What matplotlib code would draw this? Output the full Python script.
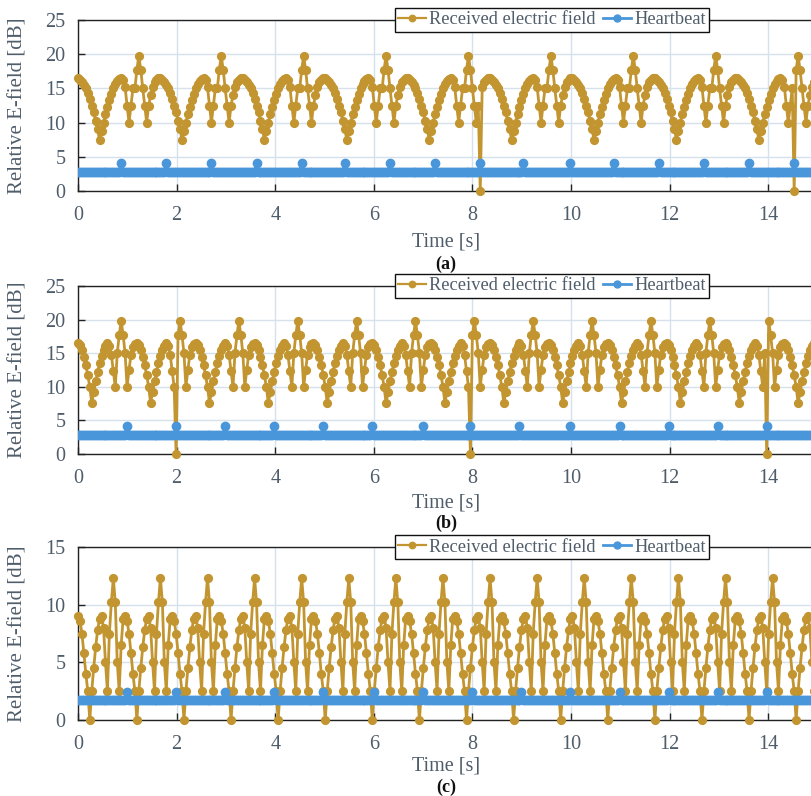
import numpy as np
import matplotlib
matplotlib.use("Agg")
import matplotlib.pyplot as plt
from matplotlib.lines import Line2D

plt.rcParams['font.family'] = ['Liberation Serif', 'DejaVu Serif']

# ---------------- data ----------------
dt = 0.0398          # sample interval [s]
t_end = 15.4         # last time shown [s]

# one measured cycle of the received field (panel a, starts at t = 0), dB
cycle_a = [16.5, 16.3, 16.0, 15.5, 15.0, 14.3, 13.5, 12.5, 11.5, 10.2, 9.0, 7.5,
           8.8, 10.0, 11.2, 12.3, 13.3, 14.2, 15.0, 15.6, 16.1, 16.4, 16.5, 16.2,
           15.2, 12.5, 10.0, 12.5, 15.0, 15.0, 17.7, 19.8, 17.7, 15.0, 12.5, 10.0,
           12.5, 14.0, 15.2, 15.9, 16.3, 16.5]
# one measured cycle of the received field (panel b)
cycle_b = [16.5, 16.2, 15.5, 14.5, 13.2, 11.7, 10.0, 7.6, 9.2, 10.8, 12.2, 13.5,
           14.6, 15.5, 16.1, 16.5, 16.0, 14.8, 12.3, 10.0, 15.0, 17.7, 19.8, 17.7,
           15.0, 10.0, 12.5, 14.8, 15.9, 16.4]
# one measured cycle of the received field (panel c)
cycle_c = [9.0, 8.6, 7.5, 5.8, 4.0, 2.5, 0.0, 2.5, 4.5, 6.3, 7.8, 8.8,
           9.0, 8.0, 5.0, 2.5, 7.5, 10.2, 12.3, 10.2, 5.0, 2.5, 6.5, 8.8]

# times where the received field drops to 0 dB
dropouts_a = [8.14, 14.51]
dropouts_b = [1.98, 7.97, 13.97]
dropouts_c = []

# heartbeat times [s]
beats_a = [0.89, 1.80, 2.70, 3.61, 4.52, 5.43, 6.33, 7.24, 8.14, 9.05, 9.97,
           10.87, 11.78, 12.68, 13.60, 14.51]
beats_b = [0.98, 1.98, 2.97, 3.98, 4.97, 5.97, 6.99, 7.97, 8.97, 9.97, 10.97,
           11.96, 12.98, 13.97]
beats_c = [0.99, 1.98, 2.98, 3.99, 4.98, 5.99, 6.99, 7.98, 8.98, 9.98, 10.97,
           11.97, 12.98, 13.97]
beat_base = [2.8, 2.8, 1.72]     # heartbeat baseline level per panel
beat_peak = [4.1, 4.15, 2.45]    # heartbeat marker level per panel

y_max = [25, 25, 15]
y_ticks = [[0, 5, 10, 15, 20, 25], [0, 5, 10, 15, 20, 25], [0, 5, 10, 15]]
x_ticks = [0, 2, 4, 6, 8, 10, 12, 14]
panel_labels = ['(a)', '(b)', '(c)']

# ---------------- style ----------------
GOLD = '#C29530'
BLUE = '#4A96DA'
TXT = '#4f5d6b'
GRID = '#d6e1eb'

W, H = 811, 796
fig = plt.figure(figsize=(W / 100, H / 100), dpi=100)

# pixel boxes of the three axes (left, top, bottom)
boxes = [(78, 20, 191), (78, 286, 454), (78, 547, 720)]
xmax = 15.25
px_per_s = 49.3
xlab_y = [242, 503, 766]
plab_y = [264, 523, 787]

t = np.arange(int(t_end / dt) + 1) * dt
cycles = [cycle_a, cycle_b, cycle_c]
dropouts = [dropouts_a, dropouts_b, dropouts_c]
beats = [beats_a, beats_b, beats_c]

for i in range(3):
    l, top, bot = boxes[i]
    ax = fig.add_axes([l / W, 1 - bot / H, xmax * px_per_s / W, (bot - top) / H])
    cyc = np.asarray(cycles[i], dtype=float)
    field = np.tile(cyc, len(t) // len(cyc) + 1)[:len(t)]
    for d in dropouts[i]:
        field[int(round(d / dt))] = 0.0
    hb = np.full(len(t), beat_base[i])
    for b in beats[i]:
        hb[int(round(b / dt))] = beat_peak[i]

    ax.plot(t, field, '-o', color=GOLD, lw=2.0, ms=5.6, zorder=3, clip_on=False)
    ax.plot(t, hb, '-o', color=BLUE, lw=2.4, ms=6.0, zorder=4)

    ax.set_xlim(0, xmax)
    ax.set_ylim(0, y_max[i])
    ax.set_xticks(x_ticks)
    ax.set_yticks(y_ticks[i])
    ax.grid(True, color=GRID, lw=1.0, zorder=0)
    ax.set_axisbelow(True)
    ax.tick_params(direction='in', length=5, width=1.0, colors='#222222',
                   labelcolor=TXT, labelsize=14.5)
    ax.tick_params(axis='x', pad=11)
    ax.tick_params(axis='y', pad=9)
    for s in ax.spines.values():
        s.set_color('#222222')
        s.set_linewidth(1.0)
    ax.set_ylabel('Relative E-field [dB]', fontsize=15, color=TXT)
    ax.yaxis.set_label_coords(-(l - 27) / (xmax * px_per_s), 0.5)

    handles = [Line2D([], [], color=GOLD, marker='o', lw=1.6, ms=4.6),
               Line2D([], [], color=BLUE, marker='o', lw=2.0, ms=5.0)]
    leg = ax.legend(handles, ['Received electric field', 'Heartbeat'],
                    loc='center', bbox_to_anchor=((552 - l) / (xmax * px_per_s), 1.0),
                    ncol=2, fontsize=13.2, frameon=True, fancybox=False,
                    handlelength=1.5, handletextpad=0.2, columnspacing=0.4,
                    borderpad=0.18, borderaxespad=0)
    leg.get_frame().set_edgecolor('#111111')
    leg.get_frame().set_linewidth(1.0)
    leg.get_frame().set_alpha(1)
    for txt in leg.get_texts():
        txt.set_color(TXT)
    leg.set_zorder(10)

    fig.text(446 / W, 1 - xlab_y[i] / H, 'Time [s]', ha='center', va='center',
             fontsize=14.5, color=TXT)
    fig.text(446 / W, 1 - plab_y[i] / H, panel_labels[i], ha='center', va='center',
             fontsize=13, fontweight='bold', color='#111111')

fig.savefig('out.png', dpi=100)
